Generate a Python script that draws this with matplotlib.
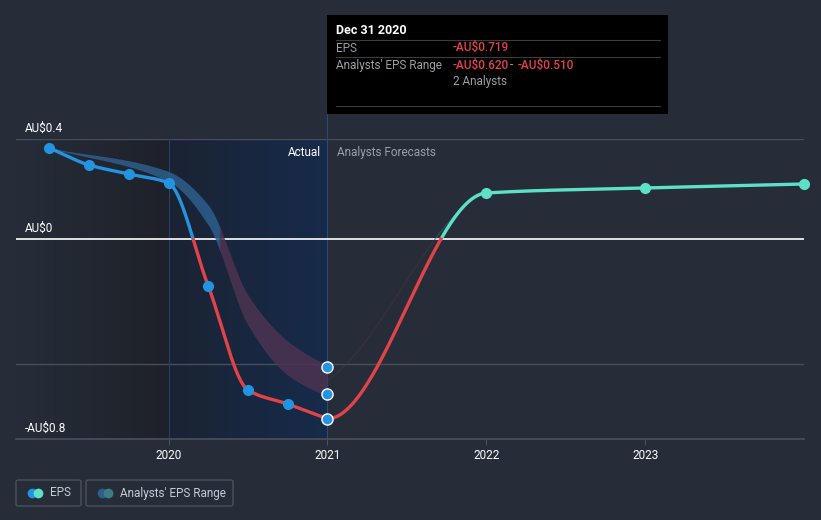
import numpy as np
import matplotlib.pyplot as plt
from matplotlib.patches import FancyBboxPatch, Rectangle
from matplotlib.lines import Line2D
from matplotlib.colors import LinearSegmentedColormap

plt.rcParams['font.family'] = ['Roboto', 'DejaVu Sans']

# Данные
actual_x = [2019.25, 2019.5, 2019.75, 2020.0, 2020.25, 2020.5, 2020.75, 2021.0]
actual_eps = [0.364, 0.296, 0.26, 0.224, -0.188, -0.604, -0.66, -0.719]
fc_x = [2021.0, 2022.0, 2023.0, 2024.0]
fc_eps = [-0.719, 0.184, 0.204, 0.22]
range_x = [2019.25, 2020.0, 2020.25, 2020.5, 2020.75, 2021.0]
range_low = [0.364, 0.238, 0.064, -0.336, -0.536, -0.62]
range_high = [0.364, 0.262, 0.128, -0.232, -0.416, -0.51]
tail_x = [2021.0, 2022.0]
tail_mid = [-0.565, 0.184]
yticks = [0.4, 0.0, -0.8]
ytick_labels = ['AU$0.4', 'AU$0', '-AU$0.8']
xticks = [2020, 2021, 2022, 2023]

BG = '#262d39'
BLUE = '#2394df'
RED = '#e0434a'
TEAL = '#5de0c8'


def pchip(x, y, xs, m0=None, m1=None):
    x = np.asarray(x, float)
    y = np.asarray(y, float)
    h = np.diff(x)
    d = np.diff(y) / h
    m = np.zeros_like(y)
    m[0], m[-1] = d[0], d[-1]
    for k in range(1, len(x) - 1):
        if d[k - 1] * d[k] <= 0:
            m[k] = 0
        else:
            w1 = 2 * h[k] + h[k - 1]
            w2 = h[k] + 2 * h[k - 1]
            m[k] = (w1 + w2) / (w1 / d[k - 1] + w2 / d[k])
    if m0 is not None:
        m[0] = m0
    if m1 is not None:
        m[-1] = m1
    i = np.clip(np.searchsorted(x, xs) - 1, 0, len(x) - 2)
    t = (xs - x[i]) / h[i]
    h00 = 2 * t**3 - 3 * t**2 + 1
    h10 = t**3 - 2 * t**2 + t
    h01 = -2 * t**3 + 3 * t**2
    h11 = t**3 - t**2
    return h00 * y[i] + h10 * h[i] * m[i] + h01 * y[i + 1] + h11 * h[i] * m[i + 1]


fig = plt.figure(figsize=(8.21, 5.2), dpi=100)
fig.patch.set_facecolor(BG)
W, H = 821, 520
ax = fig.add_axes([16 / W, 1 - 439 / H, (804 - 16) / W, (439 - 139) / H])
ax.set_facecolor(BG)
X0, X1 = 2019.04, 2024.0

# фоновые области
grad = np.linspace(0, 1, 256).reshape(1, -1)
cm1 = LinearSegmentedColormap.from_list('g1', [BG, '#1e2129'])
cm2 = LinearSegmentedColormap.from_list('g2', ['#1b2333', '#162b4b'])
ax.imshow(grad, extent=[X0, 2020.0, -0.8, 0.4], aspect='auto', cmap=cm1, zorder=0)
ax.imshow(grad, extent=[2020.0, 2021.0, -0.8, 0.4], aspect='auto', cmap=cm2, zorder=0)
ax.set_xlim(X0, X1)
ax.set_ylim(-0.8, 0.4)

for yv in [0.4, -0.5]:
    ax.axhline(yv, color='#474e5a', lw=1, zorder=1)
ax.axhline(0, color='white', lw=1.2, zorder=2)
ax.axvline(2020, color='#26406a', lw=0.8, zorder=1)
ax.plot([2021, 2021], [-0.8, 0.52], color='#2b4a78', lw=0.8, zorder=1, clip_on=False)

# диапазон аналитиков
xs = np.linspace(range_x[0], range_x[-1], 800)
lo = pchip(range_x, range_low, xs, m1=-0.25)
hi = pchip(range_x, range_high, xs, m1=-0.25)
mid = (lo + hi) / 2
pad = 0.008 * np.clip((xs - range_x[0]) / 0.75, 0.15, 1)
ax.fill_between(xs, lo - pad, hi + pad, where=mid >= -0.01, color='#2c5f8d', alpha=0.85, lw=0, zorder=3)
ax.fill_between(xs, lo - pad, hi + pad, where=mid <= 0.01, color='#4d3352', alpha=0.85, lw=0, zorder=3)
xt = np.linspace(tail_x[0], tail_x[-1], 300)
yt = pchip(tail_x, tail_mid, xt, m0=0.4, m1=0.2)
ax.plot(xt, np.ma.masked_where(yt > 0, yt), color='#4a3040', lw=0.8, alpha=0.6, zorder=3)
ax.plot(xt, np.ma.masked_where(yt < 0, yt), color='#2f6e6a', lw=0.8, alpha=0.6, zorder=3)

# фактическая EPS
xa = np.linspace(actual_x[0], actual_x[-1], 1500)
ya = pchip(actual_x, actual_eps, xa)
ax.plot(xa, np.ma.masked_where(ya < 0, ya), color=BLUE, lw=2.4, zorder=4, solid_capstyle='round')
ax.plot(xa, np.ma.masked_where(ya > 0, ya), color=RED, lw=2.4, zorder=4, solid_capstyle='round')
ax.plot(actual_x[:-1], actual_eps[:-1], 'o', color=BLUE, ms=7, zorder=5)

# прогноз
xf = np.linspace(fc_x[0], fc_x[-1], 1500)
yf = pchip(fc_x, fc_eps, xf, m0=0.0)
ax.plot(xf, np.ma.masked_where(yf < 0, yf), color=TEAL, lw=2.4, zorder=4)
ax.plot(xf, np.ma.masked_where(yf > 0, yf), color=RED, lw=2.4, zorder=4)
ax.plot(fc_x[1:], fc_eps[1:], 'o', color=TEAL, ms=7, zorder=5, clip_on=False)
ax.plot([2021, 2021, 2021], [range_high[-1], range_low[-1], actual_eps[-1]], 'o',
        color=BLUE, mec='white', mew=1, ms=8, zorder=6)

# оси
for s in ['top', 'right', 'left']:
    ax.spines[s].set_visible(False)
ax.spines['bottom'].set_color('#4a515d')
ax.spines['bottom'].set_linewidth(1.2)
ax.set_yticks([])
ax.set_xticks(xticks)
ax.set_xticklabels([str(v) for v in xticks], fontsize=8.5)
ax.tick_params(axis='x', colors='#4a515d', length=4, pad=3)
for lab in ax.get_xticklabels():
    lab.set_color('white')
for yv, lab in zip(yticks, ytick_labels):
    ax.text(2019.095, yv + 0.018, lab, color='white', fontsize=8.5, va='bottom', zorder=7)

ax.text(2020.96, 0.345, 'Actual', color='white', fontsize=8.5, ha='right', va='center', zorder=7)
ax.text(2021.06, 0.345, 'Analysts Forecasts', color='#9aa0a8', fontsize=8.5, ha='left', va='center', zorder=7)

# подсказка
fig.patches.append(Rectangle((327 / W, 1 - 114 / H), 341 / W, 99 / H, transform=fig.transFigure,
                             facecolor='black', edgecolor='none', zorder=10))
for yy in [40, 57, 106]:
    fig.lines.append(Line2D([336 / W, 660 / W], [1 - yy / H] * 2, transform=fig.transFigure,
                            color='#3c3c3c', lw=0.8, zorder=11))
fig.text(336 / W, 1 - 31 / H, 'Dec 31 2020', color='white', fontsize=9, weight='bold', va='center', zorder=12)
fig.text(336 / W, 1 - 48 / H, 'EPS', color='#9aa0a8', fontsize=8.5, va='center', zorder=12)
fig.text(453 / W, 1 - 48 / H, '-AU$0.719', color='#e5424a', fontsize=8.5, va='center', weight='medium', zorder=12)
fig.text(336 / W, 1 - 65 / H, "Analysts' EPS Range", color='#9aa0a8', fontsize=8.5, va='center', zorder=12)
fig.text(453 / W, 1 - 65 / H, '-AU$0.620', color='#e5424a', fontsize=8.5, va='center', weight='medium', zorder=12)
fig.text(510 / W, 1 - 65 / H, '-', color='#9aa0a8', fontsize=8.5, va='center', zorder=12)
fig.text(518 / W, 1 - 65 / H, '-AU$0.510', color='#e5424a', fontsize=8.5, va='center', weight='medium', zorder=12)
fig.text(453 / W, 1 - 81 / H, '2 Analysts', color='#9aa0a8', fontsize=8.5, va='center', zorder=12)

# легенда
for x0, w in [(16, 65), (86, 147)]:
    fig.patches.append(FancyBboxPatch((x0 / W, 1 - 506 / H), w / W, 26 / H, transform=fig.transFigure,
                                      boxstyle='round,pad=0,rounding_size=0.003', facecolor='none',
                                      edgecolor='#4a515d', lw=1))
for cx, c in [(32, BLUE), (38, TEAL), (102, '#2c5f8d'), (108, '#3f7d82')]:
    fig.lines.append(Line2D([cx / W], [1 - 493 / H], transform=fig.transFigure, marker='o',
                            ms=7, color=c, mew=0))
fig.text(50 / W, 1 - 493 / H, 'EPS', color='#c8ccd2', fontsize=8.5, va='center')
fig.text(120 / W, 1 - 493 / H, "Analysts' EPS Range", color='#c8ccd2', fontsize=8.5, va='center')

fig.savefig('out.png', dpi=100, facecolor=BG)
